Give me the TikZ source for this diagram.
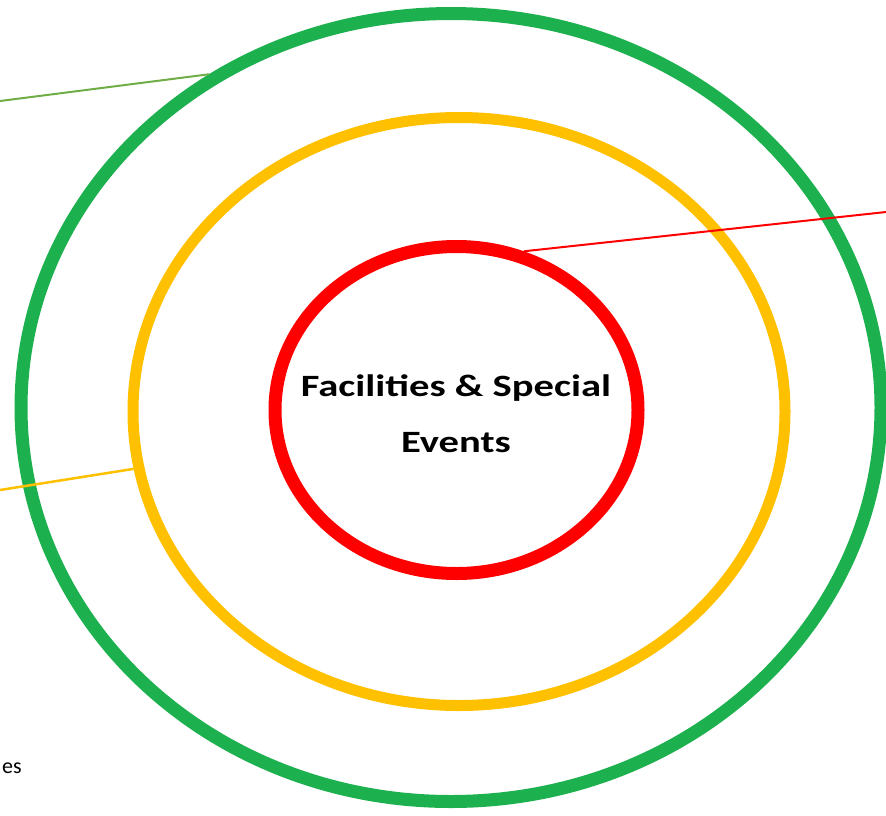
\documentclass[tikz,border=0pt]{standalone}
\usepackage{fontspec}
\setmainfont{Carlito}
\newfontfamily\widebold[FakeStretch=1.31]{Carlito}
\usetikzlibrary{shapes.geometric}
\definecolor{ringgreen}{HTML}{1DB04E}
\definecolor{ringorange}{HTML}{FFC000}
\definecolor{ringred}{HTML}{FF0000}
\definecolor{leadgreen}{HTML}{70AD47}
\tikzset{
  ring/.style={draw, ellipse, inner sep=0pt, fill=none},
  lead/.style={line width=2pt},
}
\begin{document}
\begin{tikzpicture}[x=1pt,y=-1pt]
\useasboundingbox (0,0) rectangle (886,815);
% three nested rings
\node[ring, draw=ringgreen, line width=13pt, minimum width=860pt, minimum height=788pt] (green) at (451,407.5) {};
\node[ring, draw=ringorange, line width=11pt, minimum width=652pt, minimum height=588pt] (orange) at (459,411.5) {};
\node[ring, draw=ringred, line width=13pt, minimum width=363pt, minimum height=327pt] (red) at (456.5,410) {};
% centre label
\node[font=\widebold\fontsize{31}{56}\selectfont\bfseries, align=center] (title) at (456,414) {Facilities \& Special\\Events};
% leader lines running off the page
\coordinate (gend) at (0,101);
\coordinate (oend) at (0,490);
\coordinate (rend) at (886,212);
\draw[lead, draw=leadgreen] (gend) -- (green.126.5);
\draw[lead, draw=ringorange, line width=2.5pt] (oend) -- (orange.190.6);
\draw[lead, draw=ringred] (red.67.3) -- (rend);
% clipped caption at lower left
\node[font=\fontsize{22}{26}\selectfont, anchor=base east, inner sep=0pt] (cap) at (22,773) {es};
\end{tikzpicture}
\end{document}
